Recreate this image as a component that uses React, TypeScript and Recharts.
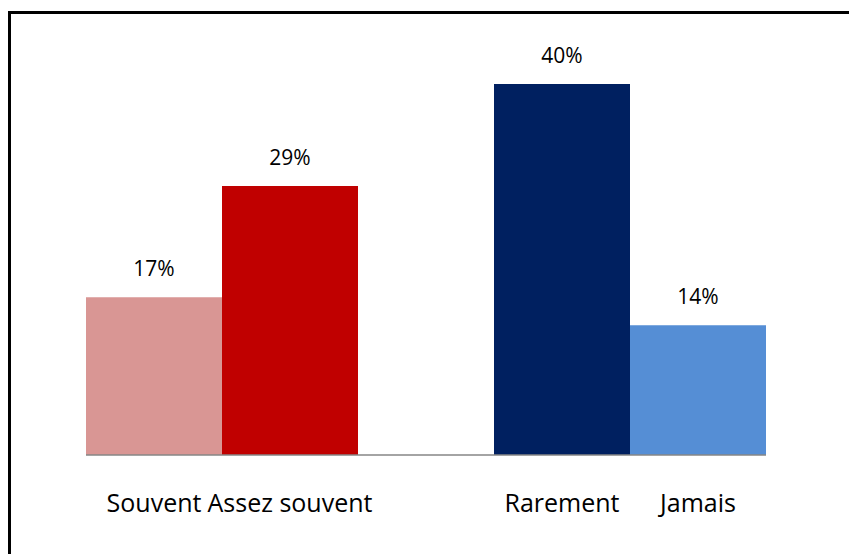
import React from 'react';
import { BarChart, Bar, XAxis, YAxis, Cell, LabelList } from 'recharts';

const categories = ['Souvent', 'Assez souvent', '', 'Rarement', 'Jamais'];
const values: (number | null)[] = [17, 29, null, 40, 14];
const colors = ['#D99694', '#C00000', '#FFFFFF', '#002060', '#558ED5'];

const data = categories.map((c, i) => ({ name: c, value: values[i] }));

const FONT = '"Open Sans", sans-serif';

export default function App() {
  return (
    <div style={{ position: 'absolute', left: 0, top: 0, width: 849, height: 554, background: '#fff', overflow: 'hidden' }}>
      <div
        style={{
          position: 'absolute',
          left: 8,
          top: 11,
          width: 900,
          height: 600,
          borderLeft: '3.5px solid #000',
          borderTop: '3.5px solid #000',
        }}
      />
      <div style={{ position: 'absolute', left: 0, top: 0 }}>
        <BarChart
          width={849}
          height={554}
          data={data}
          margin={{ top: 84, right: 83, bottom: 39, left: 86 }}
          barCategoryGap={0}
          barGap={0}
        >
          <YAxis hide domain={[0, 40]} />
          <XAxis
            dataKey="name"
            axisLine={{ stroke: '#868686', strokeWidth: 1.5 }}
            tickLine={false}
            tickSize={0}
            tickMargin={39}
            height={60}
            interval={0}
            tick={{ fill: '#000', fontSize: 25, fontFamily: FONT }}
          />
          <Bar dataKey="value" isAnimationActive={false}>
            {data.map((d, i) => (
              <Cell key={i} fill={colors[i]} />
            ))}
            <LabelList
              dataKey="value"
              position="top"
              offset={21}
              formatter={(v: any) => (v == null ? '' : `${v}%`)}
              style={{ fill: '#000', fontSize: 21, fontFamily: FONT }}
            />
          </Bar>
        </BarChart>
      </div>
    </div>
  );
}
